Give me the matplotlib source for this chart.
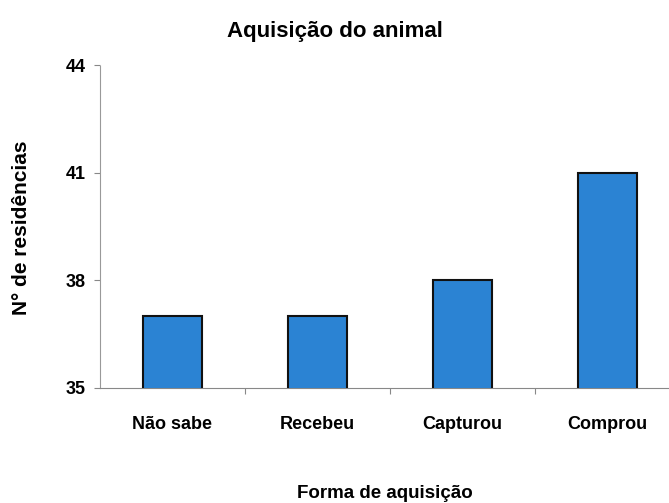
import matplotlib
matplotlib.use("Agg")
import matplotlib.pyplot as plt
import numpy as np

# dados
categorias = ["Não sabe", "Recebeu", "Capturou", "Comprou"]
residencias = [37, 37, 38, 41]
yticks = [35, 38, 41, 44]

plt.rcParams['font.family'] = ['Liberation Sans', 'DejaVu Sans']
plt.rcParams['font.weight'] = 'bold'

fig = plt.figure(figsize=(6.69, 5.03), dpi=100)
ax = fig.add_axes([100 / 669, 115 / 503, 569 / 669, 323 / 503])

x = np.arange(len(categorias))
ax.bar(x, residencias, width=0.41, bottom=0, color="#2b83d3",
       edgecolor="#111111", linewidth=1.5, zorder=3)

ax.set_yticks(yticks)
ax.set_yticklabels([str(t) for t in yticks], fontsize=13, fontweight='bold')

# ticks das categorias entre as barras
ax.set_xticks(x + 0.5, minor=False)
ax.set_xticklabels([])
ax.set_xticks(x, minor=True)
ax.set_xticklabels(categorias, minor=True, fontsize=13, fontweight='bold')
ax.tick_params(axis='x', which='minor', length=0, pad=20)
ax.tick_params(axis='x', which='major', length=4, color="#888888", direction='out')
ax.tick_params(axis='y', length=4, color="#888888", pad=6)

# limites depois dos ticks (set_xticks expande a vista)
ax.set_ylim(35, 44)
ax.set_xlim(-0.5, 3.5 - 11 / 145)

for s in ["top", "right"]:
    ax.spines[s].set_visible(False)
ax.spines["left"].set_color("#999999")
ax.spines["left"].set_linestyle((0, (2, 1)))
ax.spines["bottom"].set_color("#888888")
ax.spines["left"].set_linewidth(0.8)
ax.spines["bottom"].set_linewidth(0.8)

fig.text(335 / 669, 1 - 32 / 503, "Aquisição do animal", ha='center', va='center',
         fontsize=16, fontweight='bold')
fig.text(385 / 669, 1 - 493 / 503, "Forma de aquisição", ha='center', va='center',
         fontsize=13.5, fontweight='bold')
fig.text(22 / 669, 1 - 228 / 503, "N° de residências", ha='center', va='center',
         rotation=90, fontsize=15, fontweight='bold')

fig.savefig("out.png", dpi=100)
